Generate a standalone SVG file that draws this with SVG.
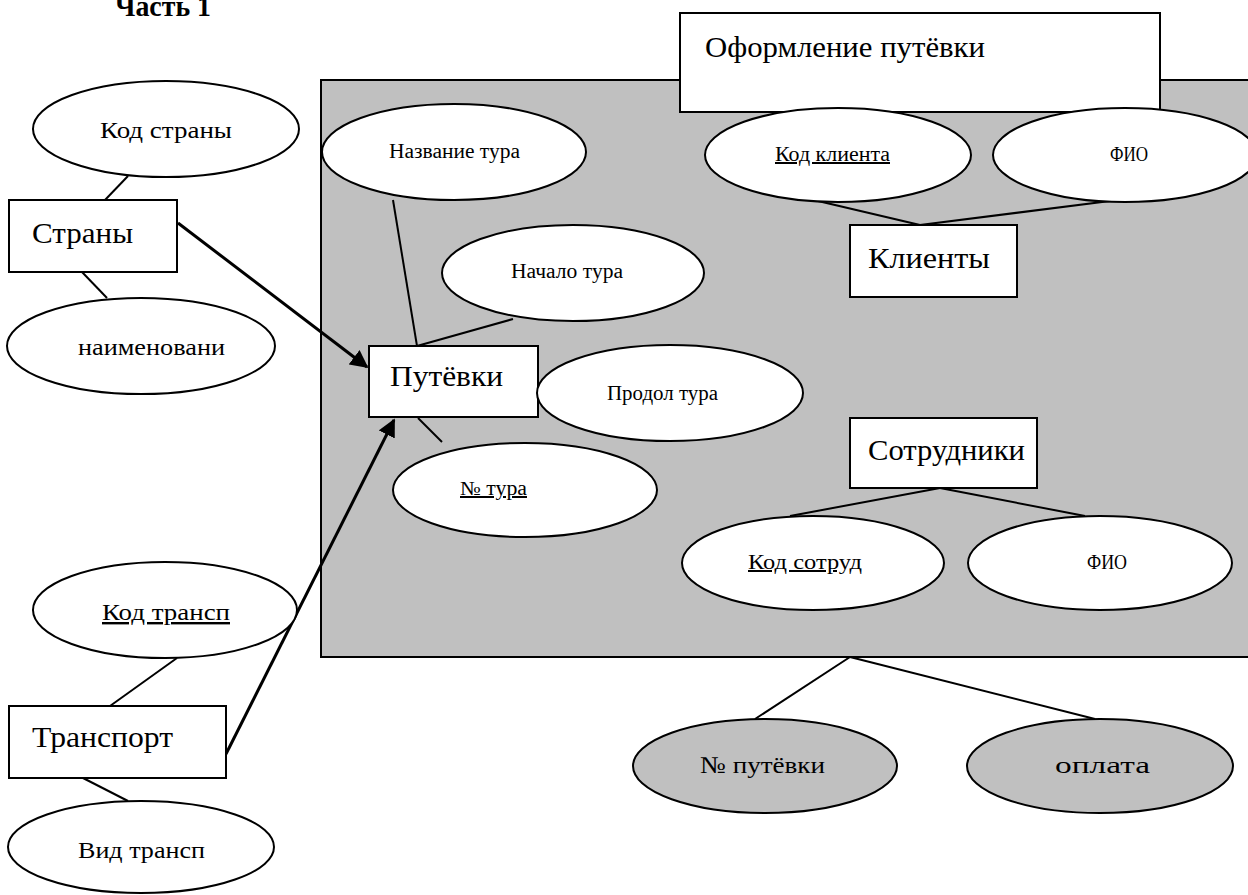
<svg xmlns="http://www.w3.org/2000/svg" width="1248" height="895" viewBox="0 0 1248 895">
<style>
.e{fill:#fff;stroke:#000;stroke-width:2}
.eg{fill:#c0c0c0;stroke:#000;stroke-width:2}
.b{fill:#fff;stroke:#000;stroke-width:2}
.l{stroke:#000;stroke-width:2;fill:none}
.a{stroke:#000;stroke-width:3;fill:none}
text{font-family:"Liberation Serif","Times New Roman",serif;fill:#000}
.t1{font-size:30px}
.t2{font-size:24px}
.t3{font-size:20px}
.u{text-decoration:underline}
</style>
<defs>
<marker id="ah" viewBox="0 0 10 10" refX="9" refY="5" markerWidth="6" markerHeight="6" orient="auto" markerUnits="strokeWidth">
<path d="M0,0 L10,5 L0,10 z" fill="#000"/>
</marker>
</defs>
<rect width="1248" height="895" fill="#fff"/>
<text x="115" y="16" style="font-size:29px;font-weight:bold" textLength="96" lengthAdjust="spacingAndGlyphs">Часть 1</text>
<g id="group-oformlenie">
<rect x="321" y="80" width="930" height="577" fill="#c0c0c0" stroke="#000" stroke-width="2"/>
</g>
<g id="connectors">
<line class="l" x1="128" y1="176" x2="105" y2="200"/>
<line class="l" x1="82" y1="272" x2="107" y2="298"/>
<line class="l" x1="393" y1="200" x2="417" y2="346"/>
<line class="l" x1="417" y1="346" x2="513" y2="319"/>
<line class="l" x1="418" y1="418" x2="442" y2="442"/>
<line class="l" x1="818" y1="201" x2="920" y2="225"/>
<line class="l" x1="1110" y1="201" x2="920" y2="225"/>
<line class="l" x1="940" y1="488" x2="790" y2="516"/>
<line class="l" x1="940" y1="488" x2="1085" y2="516"/>
<line class="l" x1="850" y1="657" x2="755" y2="719"/>
<line class="l" x1="850" y1="657" x2="1095" y2="719"/>
<line class="l" x1="177" y1="658" x2="110" y2="706"/>
<line class="l" x1="83" y1="778" x2="128" y2="801"/>
<line class="a" x1="178" y1="223" x2="367" y2="367" marker-end="url(#ah)"/>
<line class="a" x1="226" y1="754" x2="394" y2="420" marker-end="url(#ah)"/>
</g>
<g id="title">
<rect class="b" x="680" y="13" width="480" height="99"/>
<text class="t1" x="705" y="57" textLength="280" lengthAdjust="spacingAndGlyphs">Оформление путёвки</text>
</g>
<g id="kod-strany">
<ellipse class="e" cx="166" cy="129" rx="133" ry="48"/>
<text class="t2" x="100" y="138" textLength="132" lengthAdjust="spacingAndGlyphs">Код страны</text>
</g>
<g id="strany">
<rect class="b" x="9" y="200" width="168" height="72"/>
<text class="t1" x="32" y="243" textLength="101" lengthAdjust="spacingAndGlyphs">Страны</text>
</g>
<g id="naimenovani">
<ellipse class="e" cx="141" cy="346" rx="134" ry="48"/>
<text class="t2" x="78" y="355" textLength="147" lengthAdjust="spacingAndGlyphs">наименовани</text>
</g>
<g id="nazvanie-tura">
<ellipse class="e" cx="454" cy="152" rx="132" ry="48"/>
<text class="t3" x="389" y="158" textLength="131" lengthAdjust="spacingAndGlyphs">Название тура</text>
</g>
<g id="nachalo-tura">
<ellipse class="e" cx="573" cy="273" rx="131" ry="48"/>
<text class="t3" x="511" y="278" textLength="112" lengthAdjust="spacingAndGlyphs">Начало тура</text>
</g>
<g id="putevki">
<rect class="b" x="369" y="346" width="169" height="71"/>
<text class="t1" x="390" y="386" textLength="113" lengthAdjust="spacingAndGlyphs">Путёвки</text>
</g>
<g id="prodol-tura">
<ellipse class="e" cx="670" cy="393" rx="133" ry="48"/>
<text class="t3" x="607" y="400" textLength="111" lengthAdjust="spacingAndGlyphs">Продол тура</text>
</g>
<g id="nomer-tura">
<ellipse class="e" cx="525" cy="490" rx="132" ry="47"/>
<text class="t3 u" x="460" y="495" textLength="67" lengthAdjust="spacingAndGlyphs">№ тура</text>
</g>
<g id="kod-klienta">
<ellipse class="e" cx="838" cy="155" rx="133" ry="47"/>
<text class="t3 u" x="775" y="161" textLength="115" lengthAdjust="spacingAndGlyphs">Код клиента</text>
</g>
<g id="fio-klienta">
<ellipse class="e" cx="1125" cy="155" rx="132" ry="47"/>
<text class="t3" x="1110" y="161" textLength="38" lengthAdjust="spacingAndGlyphs">ФИО</text>
</g>
<g id="klienty">
<rect class="b" x="850" y="225" width="167" height="72"/>
<text class="t1" x="868" y="268" textLength="122" lengthAdjust="spacingAndGlyphs">Клиенты</text>
</g>
<g id="sotrudniki">
<rect class="b" x="850" y="418" width="187" height="70"/>
<text class="t1" x="868" y="460" textLength="157" lengthAdjust="spacingAndGlyphs">Сотрудники</text>
</g>
<g id="kod-sotrud">
<ellipse class="e" cx="813" cy="563" rx="131" ry="47"/>
<text class="t3 u" x="748" y="569" textLength="114" lengthAdjust="spacingAndGlyphs">Код сотруд</text>
</g>
<g id="fio-sotrud">
<ellipse class="e" cx="1100" cy="563" rx="132" ry="47"/>
<text class="t3" x="1087" y="569" textLength="40" lengthAdjust="spacingAndGlyphs">ФИО</text>
</g>
<g id="nomer-putevki">
<ellipse class="eg" cx="765" cy="766" rx="132" ry="47"/>
<text class="t2" x="700" y="773" textLength="125" lengthAdjust="spacingAndGlyphs">№ путёвки</text>
</g>
<g id="oplata">
<ellipse class="eg" cx="1100" cy="766" rx="133" ry="47"/>
<text class="t2" x="1055" y="773" textLength="95" lengthAdjust="spacingAndGlyphs">оплата</text>
</g>
<g id="kod-transp">
<ellipse class="e" cx="165" cy="610" rx="132" ry="48"/>
<text class="t2 u" x="102" y="620" textLength="128" lengthAdjust="spacingAndGlyphs">Код трансп</text>
</g>
<g id="transport">
<rect class="b" x="9" y="706" width="217" height="72"/>
<text class="t1" x="32" y="747" textLength="141" lengthAdjust="spacingAndGlyphs">Транспорт</text>
</g>
<g id="vid-transp">
<ellipse class="e" cx="141" cy="847" rx="133" ry="46"/>
<text class="t2" x="78" y="858" textLength="127" lengthAdjust="spacingAndGlyphs">Вид трансп</text>
</g>
</svg>
